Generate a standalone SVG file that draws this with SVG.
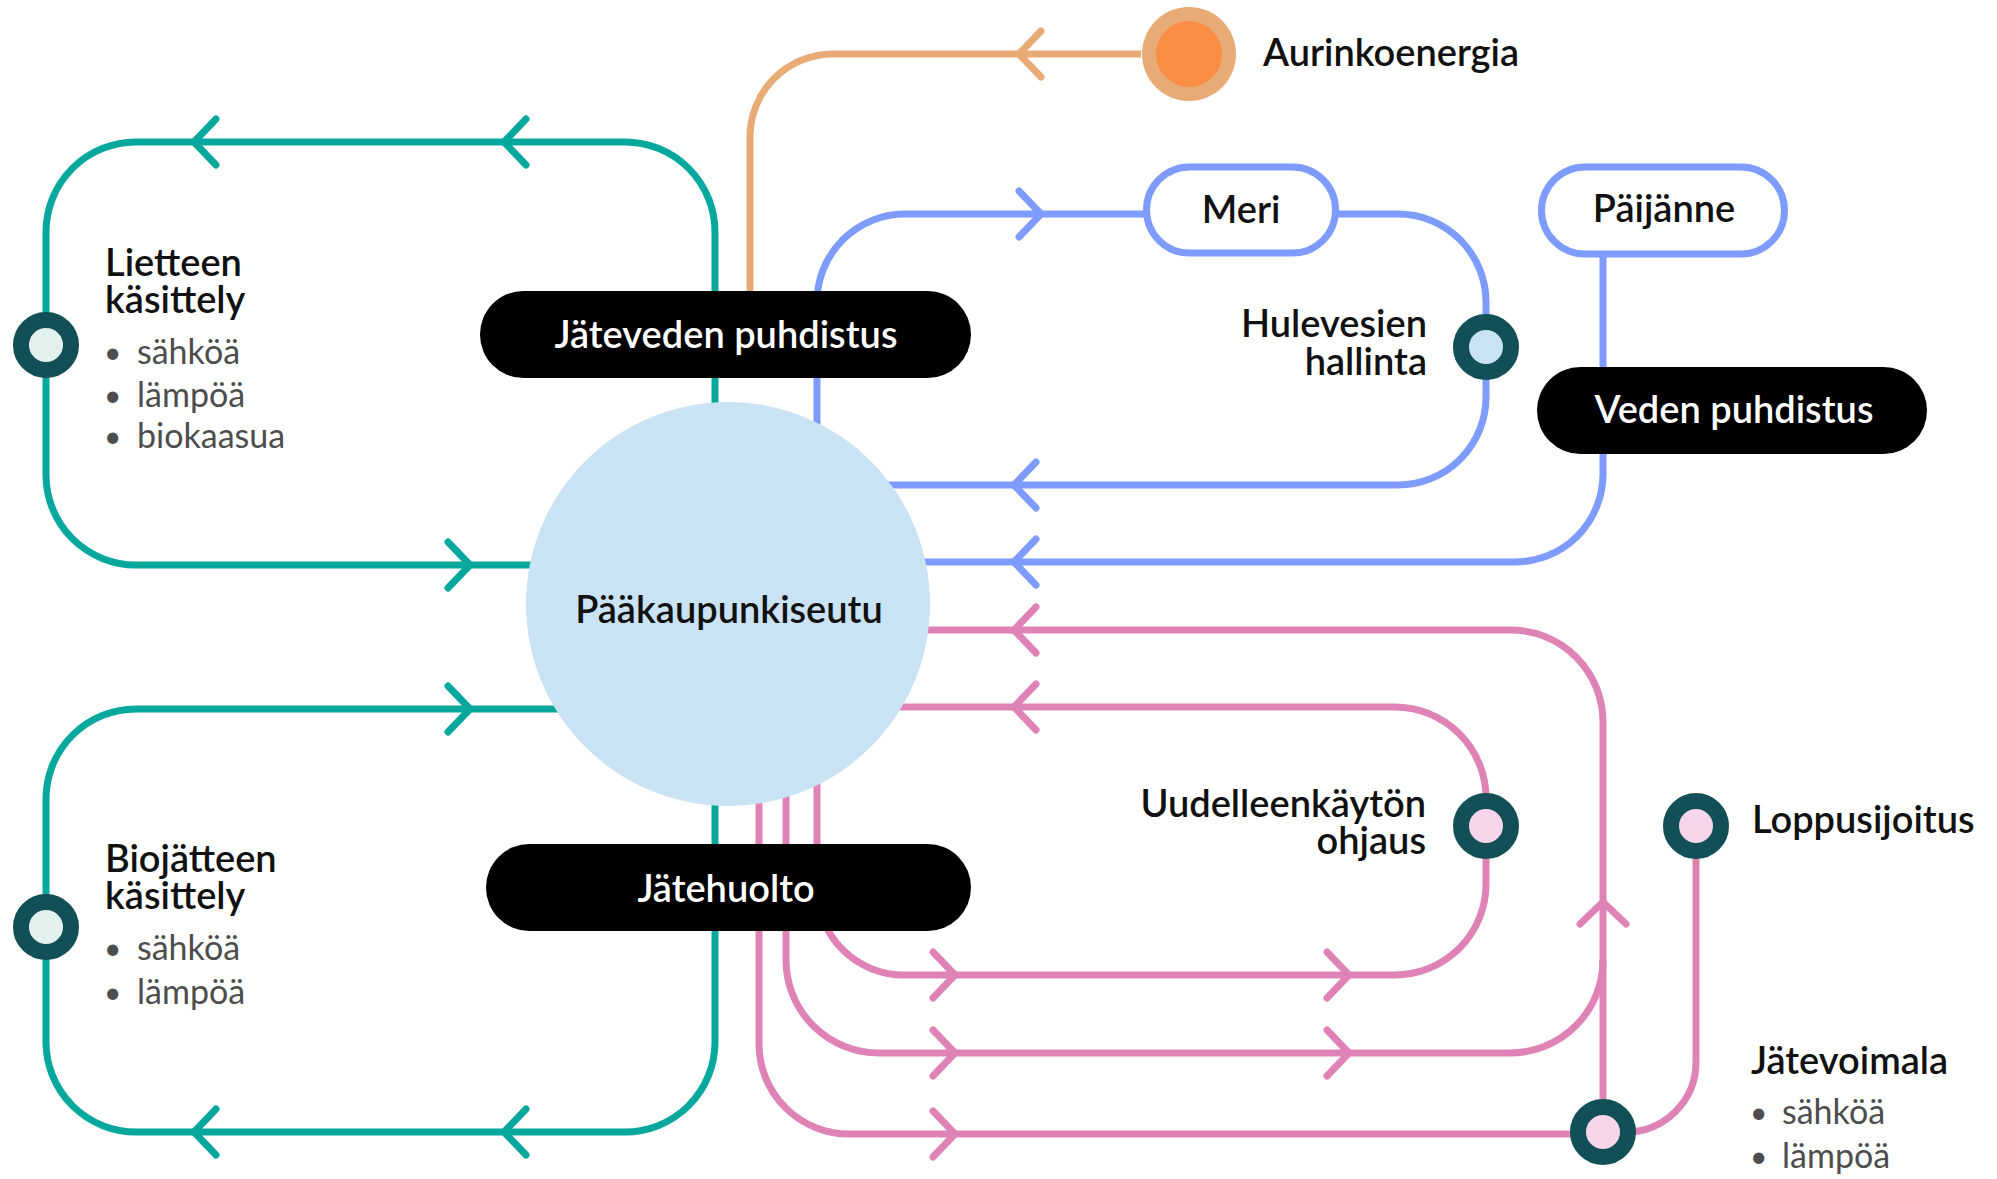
<svg xmlns="http://www.w3.org/2000/svg" xmlns:xlink="http://www.w3.org/1999/xlink" width="1997" height="1179" viewBox="0 0 1997 1179">
<style>
.ln{fill:none;stroke-width:7;stroke-linecap:butt;stroke-linejoin:round}
.ch{fill:none;stroke-width:7;stroke-linecap:round;stroke-linejoin:round}
.teal{stroke:#06A89E}
.blue{stroke:#7E9BFF}
.pink{stroke:#DF83B6}
.orng{stroke:#E9AB76}
.ring{stroke:#124F56;stroke-width:16}
.t{font-family:Lato,"Noto Sans","Liberation Sans",sans-serif;font-weight:600;font-size:38px;fill:#111}
.w{fill:#fff}
.b{font-family:Lato,"Noto Sans","Liberation Sans",sans-serif;font-weight:400;font-size:34px;fill:#4D4D4D}
.d{font-family:Lato,"Noto Sans","Liberation Sans",sans-serif;font-weight:400;font-size:30px;fill:#4D4D4D}
.pill{fill:#000}
.opill{fill:#fff;stroke:#7E9BFF;stroke-width:7}
</style>
<defs>
<path id="al" d="M22,-23 L0,0 L22,23"/>
<path id="ar" d="M-22,-23 L0,0 L-22,23"/>
<path id="au" d="M-23,22 L0,0 L23,22"/>
</defs>
<rect width="1997" height="1179" fill="#fff"/>
<g id="connectors">
<path class="ln orng" d="M1141,54 H833 A83,83 0 0 0 750,137 V300"/>
<path class="ln teal" d="M560,565 H136 A90,90 0 0 1 46,475 V232 A90,90 0 0 1 136,142 H625 A90,90 0 0 1 715,232 V600"/>
<path class="ln teal" d="M580,709 H136 A90,90 0 0 0 46,799 V1042 A90,90 0 0 0 136,1132 H625 A90,90 0 0 0 715,1042 V790"/>
<path class="ln blue" d="M817,440 V302 A88,88 0 0 1 905,214 H1398 A88,88 0 0 1 1486,302 V397 A88,88 0 0 1 1398,485 H880"/>
<path class="ln blue" d="M900,562 H1515 A88,88 0 0 0 1603,474 V250"/>
<path class="ln pink" d="M900,630 H1511 A92,92 0 0 1 1603,722 V1120"/>
<path class="ln pink" d="M880,707 H1395 A91,91 0 0 1 1486,798 V884 A91,91 0 0 1 1395,975 H904 A87,87 0 0 1 817,888 V760"/>
<path class="ln pink" d="M786,780 V960 A93,93 0 0 0 879,1053 H1510 A93,93 0 0 0 1603,960"/>
<path class="ln pink" d="M759,790 V1044 A90,90 0 0 0 849,1134 H1590"/>
<path class="ln pink" d="M1610,1132 H1626 A70,70 0 0 0 1696,1062 V840"/>
<use xlink:href="#al" x="1019" y="54" class="ch orng"/>
<use xlink:href="#al" x="194" y="142" class="ch teal"/>
<use xlink:href="#al" x="504" y="142" class="ch teal"/>
<use xlink:href="#ar" x="470" y="565" class="ch teal"/>
<use xlink:href="#ar" x="470" y="709" class="ch teal"/>
<use xlink:href="#al" x="194" y="1132" class="ch teal"/>
<use xlink:href="#al" x="504" y="1132" class="ch teal"/>
<use xlink:href="#ar" x="1041" y="214" class="ch blue"/>
<use xlink:href="#al" x="1014" y="485" class="ch blue"/>
<use xlink:href="#al" x="1014" y="562" class="ch blue"/>
<use xlink:href="#al" x="1014" y="630" class="ch pink"/>
<use xlink:href="#al" x="1014" y="707" class="ch pink"/>
<use xlink:href="#au" x="1603" y="902" class="ch pink"/>
<use xlink:href="#ar" x="955" y="975" class="ch pink"/>
<use xlink:href="#ar" x="1349" y="975" class="ch pink"/>
<use xlink:href="#ar" x="955" y="1053" class="ch pink"/>
<use xlink:href="#ar" x="1349" y="1053" class="ch pink"/>
<use xlink:href="#ar" x="955" y="1134" class="ch pink"/>
</g>
<g id="paakaupunkiseutu">
<circle cx="728" cy="604" r="202" fill="#C9E2F4"/>
<text class="t" x="729" y="623" text-anchor="middle">Pääkaupunkiseutu</text>
</g>
<g id="jateveden-puhdistus">
<rect class="pill" x="480" y="291" width="491" height="87" rx="43.5"/>
<text class="t w" x="726" y="348" text-anchor="middle">Jäteveden puhdistus</text>
</g>
<g id="jatehuolto">
<rect class="pill" x="486" y="844" width="485" height="87" rx="43.5"/>
<text class="t w" x="726" y="902" text-anchor="middle">Jätehuolto</text>
</g>
<g id="veden-puhdistus">
<rect class="pill" x="1537" y="367" width="390" height="87" rx="43.5"/>
<text class="t w" x="1734" y="423" text-anchor="middle">Veden puhdistus</text>
</g>
<g id="meri">
<rect class="opill" x="1146.5" y="167" width="189" height="86" rx="43"/>
<text class="t" x="1241" y="223" text-anchor="middle">Meri</text>
</g>
<g id="paijanne">
<rect class="opill" x="1541.5" y="167" width="243" height="87" rx="43.5"/>
<text class="t" x="1664" y="222" text-anchor="middle">Päijänne</text>
</g>
<g id="aurinkoenergia">
<circle cx="1189" cy="54" r="47" fill="#E9AB76"/>
<circle cx="1189" cy="54" r="33" fill="#F98D43"/>
<text class="t" x="1263" y="66">Aurinkoenergia</text>
</g>
<g id="lietteen-kasittely">
<circle class="ring" cx="46" cy="345" r="25" fill="#E2F0EE"/>
<text class="t" x="105" y="276">Lietteen</text>
<text class="t" x="105" y="313">käsittely</text>
<text class="d" x="104" y="363">•</text>
<text class="b" x="137" y="364">sähköä</text>
<text class="d" x="104" y="406">•</text>
<text class="b" x="137" y="407">lämpöä</text>
<text class="d" x="104" y="447">•</text>
<text class="b" x="137" y="448">biokaasua</text>
</g>
<g id="biojatteen-kasittely">
<circle class="ring" cx="46" cy="927" r="25" fill="#E2F0EE"/>
<text class="t" x="105" y="872">Biojätteen</text>
<text class="t" x="105" y="909">käsittely</text>
<text class="d" x="104" y="959">•</text>
<text class="b" x="137" y="960">sähköä</text>
<text class="d" x="104" y="1003">•</text>
<text class="b" x="137" y="1004">lämpöä</text>
</g>
<g id="hulevesien-hallinta">
<circle class="ring" cx="1486" cy="347" r="25" fill="#C9E2F4"/>
<text class="t" x="1427" y="337" text-anchor="end">Hulevesien</text>
<text class="t" x="1427" y="375" text-anchor="end">hallinta</text>
</g>
<g id="uudelleenkayton-ohjaus">
<circle class="ring" cx="1486" cy="826" r="25" fill="#F7D5EA"/>
<text class="t" x="1426" y="817" text-anchor="end">Uudelleenkäytön</text>
<text class="t" x="1426" y="854" text-anchor="end">ohjaus</text>
</g>
<g id="loppusijoitus">
<circle class="ring" cx="1696" cy="826" r="25" fill="#F7D5EA"/>
<text class="t" x="1752" y="833">Loppusijoitus</text>
</g>
<g id="jatevoimala">
<circle class="ring" cx="1603" cy="1132" r="25" fill="#F7D5EA"/>
<text class="t" x="1751" y="1074">Jätevoimala</text>
<text class="d" x="1750" y="1123">•</text>
<text class="b" x="1782" y="1124">sähköä</text>
<text class="d" x="1750" y="1167">•</text>
<text class="b" x="1782" y="1168">lämpöä</text>
</g>
</svg>
